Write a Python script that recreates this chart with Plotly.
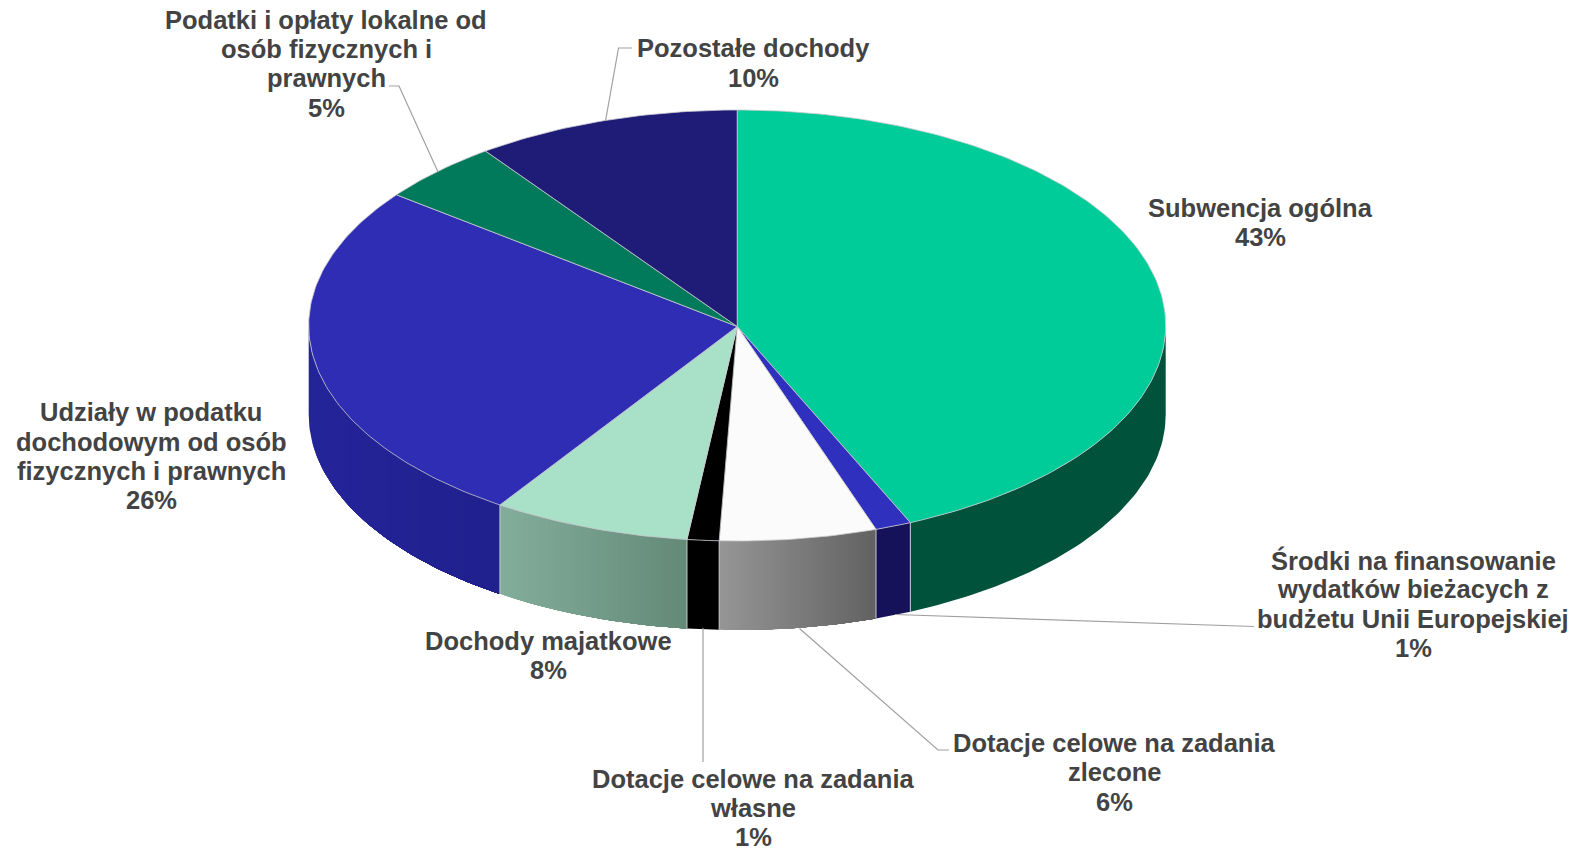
import numpy as np
import plotly.graph_objects as go

# ---- data ----
categories = ["Subwencja ogólna",
              "Środki na finansowanie wydatków bieżacych z budżetu Unii Europejskiej",
              "Dotacje celowe na zadania zlecone",
              "Dotacje celowe na zadania własne",
              "Dochody majatkowe",
              "Udziały w podatku dochodowym od osób fizycznych i prawnych",
              "Podatki i opłaty lokalne od osób fizycznych i prawnych",
              "Pozostałe dochody"]
shares = [43.38, 1.37, 5.92, 1.2, 7.47, 26.03, 4.64, 9.99]
percent_labels = ["43%", "1%", "6%", "1%", "8%", "26%", "5%", "10%"]

# ---- style ----
top_colors = ["#00CC99", "#3030BE", "#FBFBFB", "#000000", "#A8E0C8", "#2E2DB4", "#007A5A", "#1F1C78"]
side_left = ["#00523A", "#15125A", "#969696", "#000000", "#84AE9C", "#25259A", "#00523A", "#15125A"]
side_right = ["#00523A", "#15125A", "#626262", "#000000", "#648A78", "#20208E", "#00523A", "#15125A"]
EDGE = "#C9C9CF"
TEXT = "#434343"
CX, CY, RX, RY, DEPTH = 737.2, 325.5, 428.5, 215.5, 89.0
APEX_Y = 326.5

label_lines = [
    (1260, [208, 237], ["Subwencja ogólna", "43%"]),
    (1413, [560, 589, 618.5, 648], ["Środki na finansowanie", "wydatków bieżacych z", "budżetu Unii Europejskiej", "1%"]),
    (1114.5, [743, 772, 801.5], ["Dotacje celowe na zadania", "zlecone", "6%"]),
    (753, [779, 808, 837], ["Dotacje celowe na zadania", "własne", "1%"]),
    (548, [640.5, 670], ["Dochody majatkowe", "8%"]),
    (151, [412, 441.5, 471, 500], ["Udziały w podatku", "dochodowym od osób", "fizycznych i prawnych", "26%"]),
    (326, [20, 49, 78, 108], ["Podatki i opłaty lokalne od", "osób fizycznych i", "prawnych", "5%"]),
    (753, [48, 77.5], ["Pozostałe dochody", "10%"]),
]
leaders = [
    ([389, 399, 438], [86, 86, 172]),
    ([632, 618.5, 605.5], [48, 48, 121]),
    ([1254, 895], [626.5, 614.5]),
    ([949, 938, 799.5], [750, 750, 628.5]),
    ([703, 703], [762, 628]),
]


def rim(theta_deg, dy=0.0):
    t = np.radians(theta_deg)
    return CX + RX * np.sin(t), CY - RY * np.cos(t) + dy


def hex2rgb(h):
    return np.array([int(h[i:i + 2], 16) for i in (1, 3, 5)], dtype=float)


total = sum(shares)
edges = np.concatenate([[0.0], np.cumsum(shares)]) / total * 360.0

fig = go.Figure()


def poly(x, y, fill, line=None, width=0.0):
    fig.add_trace(go.Scatter(x=x, y=y, mode="lines", fill="toself", fillcolor=fill,
                             line=dict(color=line or fill, width=width),
                             hoverinfo="skip", showlegend=False))


# side wall, front half only. Each gradient step repaints from its left edge to
# the slice's right end, so neighbouring steps leave no seams.
for i, col in enumerate(top_colors):
    a0, a1 = max(edges[i], 90.0), min(edges[i + 1], 270.0)
    if a1 <= a0:
        continue
    x_lo, x_hi = rim(a1)[0], rim(a0)[0]
    same = side_left[i] == side_right[i]
    n = 1 if same else max(2, int((x_hi - x_lo) / 4))
    # even steps on screen, so the gradient runs straight across x
    xs = np.linspace(x_lo, x_hi, n + 1)
    angs = 180.0 - np.degrees(np.arcsin(np.clip((xs - CX) / RX, -1, 1)))
    c0, c1 = hex2rgb(side_left[i]), hex2rgb(side_right[i])
    for k in range(n):
        f = (k + 0.5) / n
        c = (1 - f) * c0 + f * c1
        rgb = "rgb(%d,%d,%d)" % tuple(c)
        seg = np.linspace(angs[k], a0, max(6, int(abs(angs[k] - a0))))
        xt, yt = rim(seg)
        xb, yb = rim(seg, DEPTH)
        poly(np.r_[xt, xb[::-1], xt[0]], np.r_[yt, yb[::-1], yt[0]], rgb)
for i in range(len(edges)):
    a = edges[i]
    if 90.0 < a < 270.0:
        xe, ye = rim(a)
        fig.add_trace(go.Scatter(x=[xe, xe], y=[ye, ye + DEPTH], mode="lines",
                                 line=dict(color=EDGE, width=1),
                                 hoverinfo="skip", showlegend=False))

# top face wedges
for i, col in enumerate(top_colors):
    seg = np.linspace(edges[i], edges[i + 1], max(3, int(shares[i] * 4)))
    xt, yt = rim(seg)
    poly(np.r_[CX, xt, CX], np.r_[APEX_Y, yt, APEX_Y], col, EDGE, 0.8)

# leader lines
for lx, ly in leaders:
    fig.add_trace(go.Scatter(x=lx, y=ly, mode="lines", line=dict(color="#A0A0A0", width=1.2),
                             hoverinfo="skip", showlegend=False))

# labels, one per line to hold the reference's line pitch
for x, ys, lines in label_lines:
    for y, line in zip(ys, lines):
        fig.add_annotation(x=x, y=y, text="<b>%s</b>" % line, showarrow=False,
                           xanchor="center", yanchor="middle",
                           font=dict(family="Liberation Sans", size=25.5, color=TEXT))

fig.update_layout(width=1577, height=848, margin=dict(l=0, r=0, t=0, b=0),
                  paper_bgcolor="white", plot_bgcolor="white", showlegend=False,
                  xaxis=dict(range=[0, 1577], visible=False, fixedrange=True),
                  yaxis=dict(range=[848, 0], visible=False, fixedrange=True))
fig.write_html("out.html", config={"displayModeBar": False},
               post_script="document.body.style.margin='0';document.body.style.overflow='hidden';")
